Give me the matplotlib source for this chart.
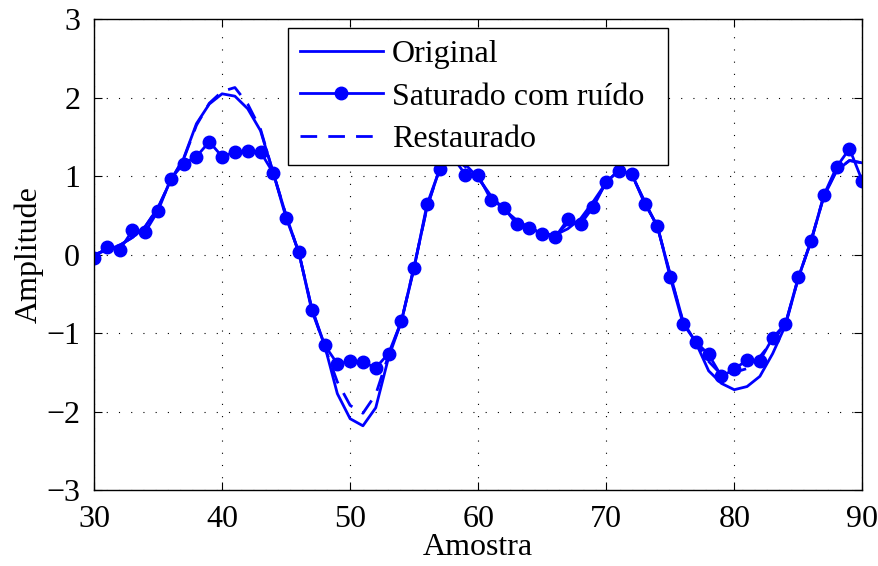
import matplotlib.pyplot as plt

# amostras 30..90
amostra = list(range(30, 91))

original = [0.00, 0.06, 0.12, 0.22, 0.36, 0.60, 0.95, 1.23, 1.67, 1.92,
            2.05, 2.02, 1.86, 1.58, 1.04, 0.50, 0.02, -0.68, -1.15, -1.77,
            -2.09, -2.18, -1.95, -1.31, -0.85, -0.15, 0.60, 1.10, 1.25, 1.15,
            0.98, 0.75, 0.58, 0.44, 0.34, 0.27, 0.25, 0.33, 0.46, 0.68,
            0.92, 1.08, 1.02, 0.68, 0.35, -0.25, -0.85, -1.12, -1.48, -1.64,
            -1.72, -1.68, -1.55, -1.26, -0.90, -0.30, 0.18, 0.74, 1.07, 1.20,
            1.17]

saturado = [-0.04, 0.10, 0.06, 0.31, 0.29, 0.56, 0.97, 1.16, 1.25, 1.44,
            1.25, 1.31, 1.32, 1.31, 1.04, 0.47, 0.03, -0.71, -1.15, -1.39,
            -1.36, -1.37, -1.44, -1.26, -0.85, -0.17, 0.64, 1.09, 1.25, 1.02,
            1.01, 0.70, 0.60, 0.39, 0.34, 0.27, 0.22, 0.45, 0.39, 0.61,
            0.93, 1.07, 1.03, 0.65, 0.37, -0.29, -0.88, -1.11, -1.27, -1.55,
            -1.46, -1.34, -1.35, -1.06, -0.88, -0.29, 0.17, 0.76, 1.12, 1.35,
            0.94]

restaurado = [0.00, 0.06, 0.12, 0.22, 0.36, 0.60, 0.95, 1.22, 1.65, 1.93,
              2.08, 2.13, 1.92, 1.60, 1.04, 0.50, 0.02, -0.68, -1.17, -1.62,
              -1.92, -2.02, -1.78, -1.28, -0.85, -0.15, 0.60, 1.10, 1.25, 1.12,
              0.98, 0.74, 0.58, 0.43, 0.34, 0.27, 0.24, 0.40, 0.42, 0.64,
              0.92, 1.08, 1.02, 0.67, 0.36, -0.26, -0.86, -1.10, -1.36, -1.53,
              -1.50, -1.45, -1.30, -1.10, -0.88, -0.30, 0.18, 0.75, 1.08, 1.20,
              1.17]

plt.rcParams['font.family'] = ['Liberation Serif', 'DejaVu Serif']
plt.rcParams['font.size'] = 23

fig = plt.figure(figsize=(8.79, 5.66), dpi=100)
ax = fig.add_axes([0.107, 0.134, 0.874, 0.832])

ax.plot(amostra, original, color='#0000ff', lw=2, label='Original')
ax.plot(amostra, saturado, color='#0000ff', lw=2, marker='o', markersize=9,
        label='Saturado com ruído')
ax.plot(amostra, restaurado, color='#0000ff', lw=2, ls='--', dashes=(6, 4),
        label='Restaurado')

ax.set_xlim(30, 90)
ax.set_ylim(-3, 3)
ax.set_xticks(range(30, 91, 10))
ax.set_yticks(range(-3, 4))
ax.grid(True, color='black', linestyle=(0, (1, 10)), linewidth=0.8)
ax.tick_params(direction='in', top=True, right=True, length=6, width=0.8,
               labelsize=23)
ax.tick_params(axis='x', pad=11)
ax.tick_params(axis='y', pad=10)
for s in ax.spines.values():
    s.set_linewidth(1)
ax.set_xlabel('Amostra', labelpad=-1)
ax.set_ylabel('Amplitude', labelpad=2)

leg = ax.legend(loc='upper left', bbox_to_anchor=(0.253, 0.69, 0.4935, 0.291),
                mode='expand', fancybox=False, framealpha=1,
                edgecolor='black', handlelength=2.6, borderaxespad=0,
                borderpad=0.35, labelspacing=0.42, handletextpad=0.3)
leg.get_frame().set_linewidth(1)

fig.savefig('out.png', dpi=100)
